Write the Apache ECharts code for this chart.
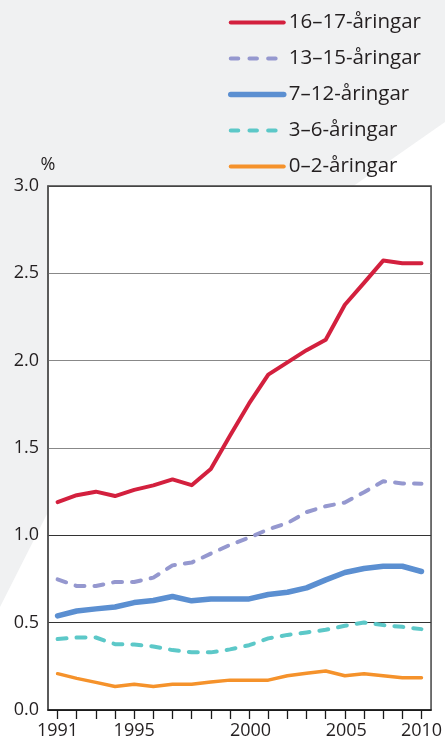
<!DOCTYPE html>
<html><head><meta charset="utf-8">
<script src="https://cdn.jsdelivr.net/npm/echarts@6/dist/echarts.min.js"></script>
<style>html,body{margin:0;padding:0;background:#fff}#c{width:445px;height:740px}</style>
</head><body><div id="c"></div>
<script>
const years = ['1991','1992','1993','1994','1995','1996','1997','1998','1999','2000','2001','2002','2003','2004','2005','2006','2007','2008','2009','2010'];
const labelYears = ['1991','1995','2000','2005','2010'];
const seriesNames = ['16–17-åringar','13–15-åringar','7–12-åringar','3–6-åringar','0–2-åringar'];
const age16_17 = [1.19,1.23,1.25,1.225,1.26,1.286,1.32,1.287,1.38,1.57,1.755,1.92,1.99,2.06,2.12,2.32,2.445,2.573,2.558,2.558];
const age13_15 = [0.748,0.71,0.71,0.733,0.733,0.758,0.828,0.844,0.895,0.945,0.987,1.034,1.07,1.133,1.167,1.188,1.247,1.31,1.297,1.296];
const age7_12  = [0.539,0.567,0.579,0.59,0.615,0.627,0.65,0.625,0.636,0.636,0.636,0.661,0.674,0.699,0.745,0.787,0.81,0.823,0.823,0.793];
const age3_6   = [0.406,0.415,0.415,0.377,0.375,0.364,0.343,0.33,0.33,0.347,0.371,0.41,0.43,0.444,0.459,0.482,0.501,0.486,0.476,0.463];
const age0_2   = [0.208,0.181,0.158,0.135,0.147,0.135,0.147,0.147,0.16,0.171,0.171,0.171,0.196,0.21,0.223,0.196,0.208,0.196,0.185,0.185];
const yMin = 0, yMax = 3, yStep = 0.5;
const yUnit = '%';

const values = [age16_17, age13_15, age7_12, age3_6, age0_2];
const looks = [
  {color:'#d3203e', width:4,   type:'solid'},
  {color:'#9598cf', width:4,   type:[9,10]},
  {color:'#5b8fd1', width:5.5, type:'solid'},
  {color:'#5cc8c8', width:4,   type:[9,10]},
  {color:'#f5922b', width:3.5, type:'solid'}
];
const legendLooks = [
  {width:4, type:'solid'},
  {width:4, type:[7.5,11.2]},
  {width:5.5, type:'solid'},
  {width:4, type:[7.5,11.2]},
  {width:4, type:'solid'}
];
const FONT = '"Open Sans", "Noto Sans", sans-serif';
const TXT = '#231f20';

const chart = echarts.init(document.getElementById('c'), null, {renderer:'canvas'});
chart.setOption({
  animation:false,
  backgroundColor:'#ffffff',
  textStyle:{fontFamily:FONT},
  graphic:[{
    type:'polygon', z:-100, silent:true,
    shape:{points:[[0,0],[445,0],[445,122],[352,187],[48,512],[0,607]]},
    style:{fill:'#f0f1f2'}
  }],
  legend:{
    orient:'vertical', left:228, top:12, padding:0, itemWidth:53, itemHeight:20, itemGap:15,
    selectedMode:false,
    textStyle:{fontSize:20.5, color:TXT, fontFamily:FONT, lineHeight:20},
    data: seriesNames.map((n,i)=>({name:n, itemStyle:{opacity:0},
      lineStyle:{width:legendLooks[i].width, type:legendLooks[i].type, cap:'round', color:looks[i].color}}))
  },
  grid:{left:48, right:11.5, top:186, bottom:29, show:true, backgroundColor:'#ffffff', borderColor:'#444', borderWidth:1.5},
  xAxis:{
    type:'category', boundaryGap:true,
    data: years.map(y => (y==='2000'||y==='2005') ? {value:y, textStyle:{align:'left'}} : y),
    axisLine:{lineStyle:{color:'#1a1a1a', width:1.5}},
    axisTick:{show:true, interval:0, alignWithLabel:true, length:9, lineStyle:{color:'#1a1a1a', width:1.3}},
    axisLabel:{interval:(i,v)=>labelYears.includes(v), fontSize:18, color:TXT, fontFamily:FONT, margin:12},
    splitLine:{show:false}
  },
  yAxis:{
    type:'value', min:yMin, max:yMax, interval:yStep,
    name:yUnit, nameLocation:'end', nameGap:12,
    nameTextStyle:{fontSize:18, color:TXT, fontFamily:FONT, align:'center'},
    axisLine:{show:true, lineStyle:{color:'#555', width:1.5}},
    axisTick:{show:false},
    axisLabel:{fontSize:18, color:TXT, fontFamily:FONT, margin:9, formatter:v=>v.toFixed(1)},
    splitLine:{show:true, lineStyle:{color:['#222','#333','#333','#888','#888','#888','#444'], width:1.2}}
  },
  series: values.map((d,i)=>({
    name:seriesNames[i], type:'line', data:d, symbol:'none', smooth:false,
    lineStyle:{color:looks[i].color, width:looks[i].width, type:looks[i].type, cap:'round', join:'round'},
    itemStyle:{color:looks[i].color}
  }))
});
</script></body></html>
